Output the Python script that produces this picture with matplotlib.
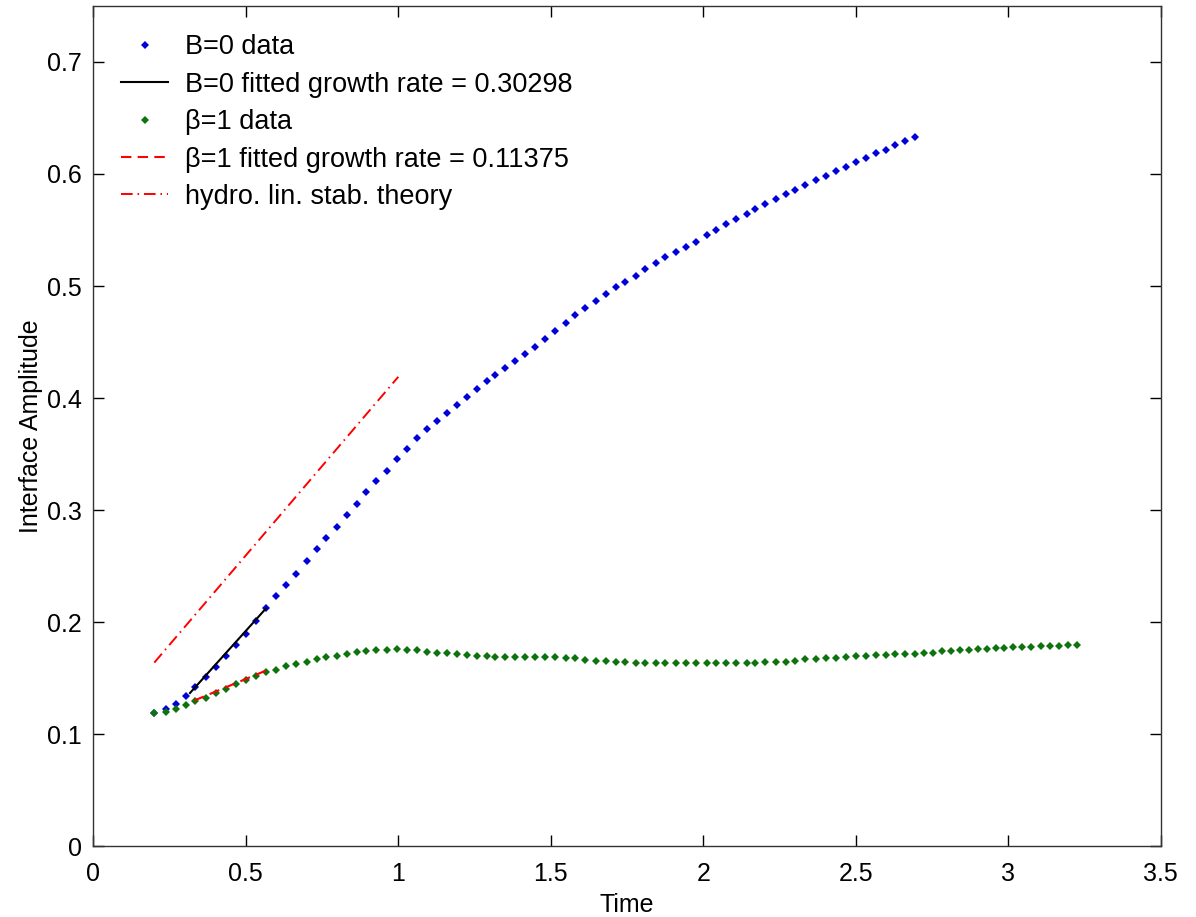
import matplotlib.pyplot as plt
import numpy as np

plt.rcParams['font.family'] = ['Liberation Sans', 'DejaVu Sans']

# sample times (shared by both runs, the beta=1 run goes on longer)
time = [0.200, 0.237, 0.270, 0.303, 0.335, 0.368, 0.402, 0.435, 0.468, 0.501,
        0.533, 0.566, 0.599, 0.633, 0.666, 0.700, 0.732, 0.764, 0.798, 0.831,
        0.864, 0.895, 0.928, 0.962, 0.996, 1.028, 1.060, 1.094, 1.127, 1.161,
        1.192, 1.225, 1.258, 1.292, 1.316, 1.350, 1.383, 1.415, 1.448, 1.481,
        1.515, 1.549, 1.579, 1.613, 1.647, 1.680, 1.714, 1.744, 1.778, 1.810,
        1.844, 1.875, 1.909, 1.943, 1.977, 2.011, 2.042, 2.075, 2.108, 2.142,
        2.170, 2.203, 2.237, 2.270, 2.302, 2.335, 2.369, 2.403, 2.436, 2.467,
        2.501, 2.535, 2.567, 2.598, 2.630, 2.662, 2.694, 2.722, 2.752, 2.782,
        2.812, 2.842, 2.872, 2.902, 2.930, 2.958, 2.987, 3.016, 3.045, 3.075,
        3.106, 3.137, 3.166, 3.197, 3.226]

# interface amplitude, B=0 (hydro) run
amp_b0 = [0.119, 0.1226, 0.127, 0.1338, 0.142, 0.151, 0.160, 0.1695, 0.1797, 0.1897,
          0.2013, 0.2127, 0.223, 0.2332, 0.2433, 0.2549, 0.265, 0.275, 0.285, 0.2956,
          0.3057, 0.316, 0.326, 0.3354, 0.3456, 0.355, 0.364, 0.3723, 0.3795, 0.3866,
          0.3938, 0.4009, 0.408, 0.4152, 0.4202, 0.4266, 0.4327, 0.4395, 0.4458, 0.4529,
          0.4603, 0.4674, 0.4743, 0.4808, 0.4868, 0.493, 0.4993, 0.504, 0.5094, 0.5153,
          0.5204, 0.5258, 0.5308, 0.535, 0.5397, 0.5451, 0.5501, 0.5555, 0.5597, 0.5647,
          0.5686, 0.5736, 0.5778, 0.5822, 0.586, 0.5903, 0.595, 0.5983, 0.6025, 0.6066,
          0.6108, 0.6146, 0.6188, 0.6218, 0.6259, 0.6298, 0.6331]

# interface amplitude, beta=1 run
amp_beta1 = [0.119, 0.120, 0.1226, 0.1258, 0.130, 0.1326, 0.1368, 0.1407, 0.1451, 0.1484,
             0.1523, 0.1558, 0.1573, 0.1606, 0.1627, 0.1648, 0.1668, 0.1686, 0.1701, 0.1719,
             0.1731, 0.174, 0.1749, 0.1749, 0.1757, 0.1749, 0.1748, 0.1737, 0.1730, 0.1730,
             0.1719, 0.1707, 0.1698, 0.1698, 0.169, 0.169, 0.169, 0.169, 0.169, 0.169,
             0.169, 0.1677, 0.1677, 0.1666, 0.1657, 0.1657, 0.1645, 0.1645, 0.1636, 0.1636,
             0.1636, 0.1636, 0.1636, 0.1636, 0.1636, 0.1636, 0.1636, 0.1636, 0.1636, 0.1636,
             0.1636, 0.1645, 0.1645, 0.1645, 0.1654, 0.1668, 0.1668, 0.1677, 0.1677, 0.169,
             0.1698, 0.1698, 0.1707, 0.1707, 0.1719, 0.1719, 0.1719, 0.1728, 0.1728, 0.174,
             0.174, 0.1749, 0.1749, 0.1761, 0.1761, 0.177, 0.177, 0.1779, 0.1779, 0.1779,
             0.179, 0.179, 0.179, 0.1799, 0.1799]

# linear fits over the early-time window
b0_rate = 0.30298
b0_intercept = 0.0408
b0_fit_t = [0.317, 0.566]
beta1_rate = 0.11375
beta1_intercept = 0.0925
beta1_fit_t = [0.331, 0.568]

# hydrodynamic linear stability prediction
theory_t = [0.2, 1.0]
theory_amp = [0.164, 0.419]

xticks = [0, 0.5, 1, 1.5, 2, 2.5, 3, 3.5]
xticklabels = ['0', '0.5', '1', '1.5', '2', '2.5', '3', '3.5']
yticks = [0, 0.1, 0.2, 0.3, 0.4, 0.5, 0.6, 0.7]
yticklabels = ['0', '0.1', '0.2', '0.3', '0.4', '0.5', '0.6', '0.7']

fig = plt.figure(figsize=(11.96, 9.17), dpi=100)
ax = fig.add_axes([0.078, 0.077, 0.8926, 0.9166])

t = np.array(time)
ax.plot(t[:len(amp_b0)], amp_b0, linestyle='none', marker='D', ms=3.8, mew=0,
        color=(0, 0, 0.85), label='B=0 data')
fb = np.array(b0_fit_t)
ax.plot(fb, b0_intercept + b0_rate * fb, color='k', lw=1.5,
        label='B=0 fitted growth rate = %.5f' % b0_rate)
ax.plot(t, amp_beta1, linestyle='none', marker='D', ms=3.8, mew=0,
        color=(0.05, 0.45, 0.05), label='\u03b2=1 data')
fg = np.array(beta1_fit_t)
ax.plot(fg, beta1_intercept + beta1_rate * fg, color='r', lw=1.5, dashes=[5, 3],
        label='\u03b2=1 fitted growth rate = %.5f' % beta1_rate)
ax.plot(theory_t, theory_amp, color='r', lw=1.4, dashes=[6, 2.5, 0.8, 2.5],
        label='hydro. lin. stab. theory')

ax.set_xlim(0, 3.5)
ax.set_ylim(0, 0.75)
ax.set_xticks(xticks)
ax.set_xticklabels(xticklabels)
ax.set_yticks(yticks)
ax.set_yticklabels(yticklabels)
ax.tick_params(direction='in', top=True, right=True, length=8, width=1,
               labelsize=18)
ax.tick_params(axis='x', pad=11)
ax.tick_params(axis='y', pad=8)
for s in ax.spines.values():
    s.set_linewidth(1.0)
    s.set_color('#333333')

ax.set_xlabel('Time', fontsize=18)
ax.set_ylabel('Interface Amplitude', fontsize=18)
ax.xaxis.set_label_coords(0.5, -0.055)
ax.yaxis.set_label_coords(-0.047, 0.5)

leg = ax.legend(loc='upper left', bbox_to_anchor=(0.0257, 0.966), frameon=False,
                fontsize=19.5, borderpad=0, borderaxespad=0, handlelength=1.76,
                handletextpad=0.62, labelspacing=0.42, markerscale=1.0)

fig.savefig('out.png', dpi=100)
